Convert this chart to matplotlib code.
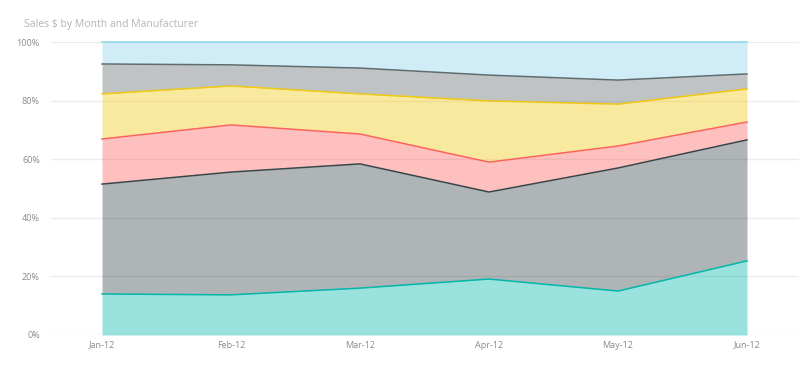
import matplotlib
matplotlib.use("Agg")
from matplotlib import pyplot as plt
import numpy as np

months = ["Jan-12", "Feb-12", "Mar-12", "Apr-12", "May-12", "Jun-12"]

# cumulative share (%) at the top of each band
teal_top = [14.0, 13.7, 16.0, 19.1, 15.0, 25.3]
dark_top = [51.5, 55.6, 58.4, 48.8, 57.0, 66.6]
red_top = [66.9, 71.7, 68.6, 59.0, 64.5, 72.7]
yellow_top = [82.3, 85.0, 82.3, 79.9, 78.8, 84.0]
gray_top = [92.5, 92.2, 91.1, 88.7, 87.0, 89.1]
blue_top = [100, 100, 100, 100, 100, 100]

tops = [teal_top, dark_top, red_top, yellow_top, gray_top, blue_top]
colors = ["#01B8AA", "#374649", "#FD625E", "#F2C80F", "#5F6B6D", "#8AD4EB"]

plt.rcParams['font.family'] = ['Open Sans', 'DejaVu Sans']

fig = plt.figure(figsize=(8.08, 3.67), dpi=100)
ax = fig.add_axes([51 / 808, 32 / 367, 748 / 808, 293 / 367])

x = np.arange(len(months))
bottom = np.zeros(len(months))
for top, c in zip(tops, colors):
    top = np.array(top, dtype=float)
    ax.fill_between(x, bottom, top, color=c, alpha=0.4, linewidth=0, zorder=2)
    ax.plot(x, top, color=c, linewidth=1.1, zorder=3, clip_on=False)
    bottom = top

ax.set_xlim((51 - 102) / 129, (799 - 102) / 129)
ax.set_ylim(0, 100)
ax.set_xticks(x)
ax.set_xticklabels(months)
ax.set_yticks([0, 20, 40, 60, 80, 100])
ax.set_yticklabels(["0%", "20%", "40%", "60%", "80%", "100%"])
ax.tick_params(length=0, labelsize=6.5, colors="#8a8a8a")
ax.tick_params(axis="y", pad=8)
ax.tick_params(axis="x", pad=4)
ax.grid(axis="y", color="#ececec", linewidth=1, zorder=0)
for s in ax.spines.values():
    s.set_visible(False)

fig.text(24 / 808, 1 - 24 / 367, "Sales $ by Month and Manufacturer",
         fontsize=7.5, color="#b5b5b5", va="center", ha="left")

fig.savefig("out.png", dpi=100)
